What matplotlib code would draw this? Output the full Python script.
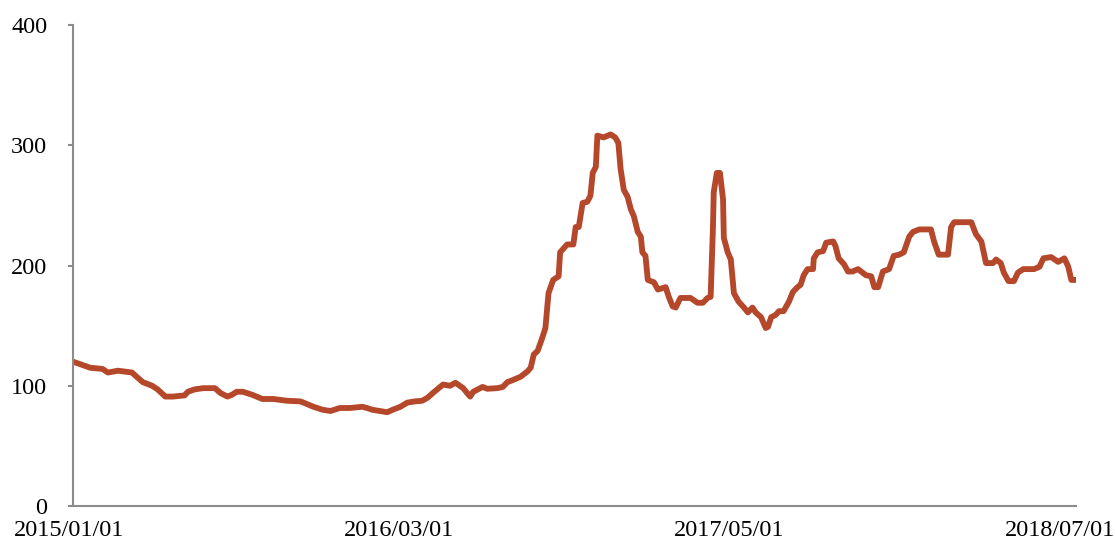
import numpy as np
import pandas as pd
import matplotlib
matplotlib.use('Agg')
import matplotlib.pyplot as plt
from matplotlib.transforms import ScaledTranslation

# approximate day offsets and index values
days = [8, 17, 30, 46, 53, 66, 84, 90, 98, 110, 117, 127, 137, 152, 156, 165, 176, 191,
        198, 207, 213, 219, 227, 239, 252, 266, 284, 301, 307, 318, 330, 340, 352, 365,
        381, 387, 394, 413, 420, 430, 439, 449, 458, 465, 472, 485, 494, 501, 511, 516,
        520, 524, 536, 542, 555, 562, 568, 576, 585, 594, 598, 602, 607, 613, 617, 621,
        627, 634, 636, 645, 653, 656, 660, 665, 671, 675, 678, 682, 684, 692, 701, 707,
        711, 714, 718, 723, 727, 731, 736, 740, 742, 746, 749, 757, 762, 772, 776, 781,
        785, 791, 804, 813, 820, 826, 830, 833, 834, 838, 842, 846, 847, 852, 856, 860,
        866, 873, 878, 884, 888, 895, 901, 904, 908, 914, 918, 924, 931, 936, 942, 946,
        950, 955, 962, 963, 968, 975, 979, 988, 991, 995, 1002, 1007, 1013, 1020, 1024,
        1030, 1037, 1041, 1046, 1052, 1060, 1066, 1073, 1079, 1086, 1091, 1099, 1114,
        1118, 1124, 1136, 1140, 1144, 1166, 1172, 1179, 1185, 1194, 1198, 1204, 1208,
        1214, 1221, 1226, 1233, 1247, 1254, 1259, 1269, 1278, 1286, 1291, 1295, 1301]
values = [120, 118, 115, 114, 111, 112.5, 111, 107.5, 103, 100, 97, 91, 91, 92, 95, 97, 98, 98,
          94, 91, 92.5, 95, 95, 92.5, 89, 89, 87.5, 87, 85.5, 82.5, 80, 79, 81.5, 81.5,
          82.5, 81.5, 80, 78, 80, 82.5, 86, 87, 87.5, 90, 94, 101, 100, 102.5, 98, 94,
          91, 95, 99, 97.5, 98, 99, 103, 105, 107.5, 112, 115, 126, 129, 140, 148, 177,
          188, 191, 211, 217.5, 217.5, 232, 232, 252, 253, 258, 277, 282, 308, 306.5, 309, 306.5,
          302, 280, 263, 257, 247, 241, 228, 224, 211, 208, 188, 186, 180, 182, 174, 166,
          165, 173, 173, 169, 169, 173, 174, 232, 261, 277, 277, 255, 223, 211, 205, 177,
          170, 165, 161, 165, 161, 157, 148, 149, 157, 159, 162, 162, 170, 178, 182, 184,
          192, 197, 197, 206, 211, 212, 219, 220, 216, 206, 201, 195, 195, 197, 195,
          192, 191, 182, 182, 195, 197, 208, 209, 211, 224, 228, 230, 230,
          220, 209, 209, 232, 236, 236, 226, 220, 202, 202, 205, 202, 194,
          187, 187, 194, 197, 197, 199, 206, 207, 203, 206, 199, 188, 188]

tick_dates = ['2015-01-01', '2016-03-01', '2017-05-01', '2018-07-01']
tick_labels = ['2015/01/01', '2016/03/01', '2017/05/01', '2018/07/01']

start = pd.Timestamp('2015-01-01')
dates = start + pd.to_timedelta(np.array(days) - days[0], unit='D')

plt.rcParams['font.family'] = ['Liberation Serif', 'DejaVu Serif']

fig = plt.figure(figsize=(11.15, 5.44), dpi=100)
ax = fig.add_axes([73 / 1115, 38 / 544, (1076 - 73) / 1115, (506 - 25) / 544])

ax.plot(dates, values, color='#B5472A', lw=4.2, solid_joinstyle='round', solid_capstyle='round')

ax.set_ylim(0, 400)
ax.set_yticks([0, 100, 200, 300, 400])
ax.set_xlim(dates[0], dates[-1])
ax.set_xticks(pd.to_datetime(tick_dates))
ax.set_xticklabels(tick_labels)

for s in ['top', 'right']:
    ax.spines[s].set_visible(False)
for s in ['left', 'bottom']:
    ax.spines[s].set_color('#8c8c8c')
    ax.spines[s].set_linewidth(1.5)

ax.tick_params(axis='y', length=3.6, width=1.5, color='#8c8c8c', pad=15, labelsize=17.5)
ax.tick_params(axis='x', length=0, pad=10, labelsize=17.5)

# excel-style labels sit a little left of the category position
shift = ScaledTranslation(-0.04, 0, fig.dpi_scale_trans)
for lab in ax.get_xticklabels():
    lab.set_transform(lab.get_transform() + shift)

fig.savefig('out.png', dpi=100)
